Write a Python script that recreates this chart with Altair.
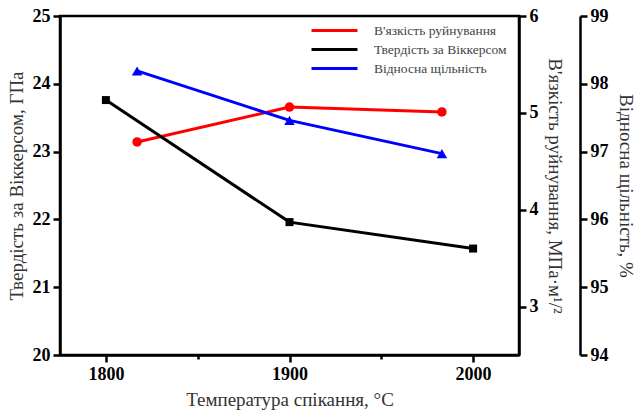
import altair as alt
import pandas as pd

# ---- data ----
series_names = ["В'язкість руйнування", "Твердість за Віккерсом", "Відносна щільність"]
series_colors = ["#ff0000", "#000000", "#0000ff"]

temp_hardness = [1800, 1900, 2000]
hardness = [23.76, 21.96, 21.57]

temp_toughness = [1817, 1900, 1983]
toughness = [4.70, 5.06, 5.01]

temp_density = [1817, 1900, 1983]
density = [98.19, 97.46, 96.97]

x_ticks = [1800, 1850, 1900, 1950, 2000]
hv_ticks = [20, 20.5, 21, 21.5, 22, 22.5, 23, 23.5, 24, 24.5, 25]
k_ticks = [3, 3.5, 4, 4.5, 5, 5.5, 6]
d_ticks = [94, 94.5, 95, 95.5, 96, 96.5, 97, 97.5, 98, 98.5, 99]

df_h = pd.DataFrame({"t": temp_hardness, "v": hardness, "series": series_names[1]})
df_k = pd.DataFrame({"t": temp_toughness, "v": toughness, "series": series_names[0]})
df_d = pd.DataFrame({"t": temp_density, "v": density, "series": series_names[2]})

FONT = "Liberation Serif"


def make_axis(values, step_test, **kw):
    base = dict(
        values=values,
        format="d",
        grid=False,
        domainColor="black",
        domainWidth=2.5,
        tickColor="black",
        tickWidth=2.5,
        tickSize={"condition": {"test": step_test, "value": 4}, "value": 7},
        labelExpr="(" + step_test + ") ? '' : format(datum.value, 'd')",
        labelFont=FONT,
        labelFontWeight="bold",
        labelFontSize=18,
        labelColor="black",
        labelPadding=3,
        titleFont=FONT,
        titleFontWeight="normal",
        titleFontSize=19,
        titleColor="#333333",
    )
    base.update(kw)
    return alt.Axis(**base)


x_axis = make_axis(x_ticks, "datum.value % 100 != 0",
                   title="Температура спікання, °C", titlePadding=7, labelFlush=False)


def x_enc():
    return alt.X("t:Q", scale=alt.Scale(domain=[1775, 2025], nice=False, zero=False), axis=x_axis)


color_enc = alt.Color(
    "series:N",
    scale=alt.Scale(domain=series_names, range=series_colors),
    legend=alt.Legend(
        title=None,
        orient="none",
        legendX=267,
        legendY=7,
        symbolType="M-4,0H4",
        symbolStrokeWidth=3,
        symbolSize=132,
        labelFont=FONT,
        labelFontSize=13.5,
        labelColor="#444444",
        labelOffset=32,
        rowPadding=5,
        padding=0,
    ),
)

hard = alt.Chart(df_h).mark_line(
    strokeWidth=3, point=alt.OverlayMarkDef(filled=True, shape="square", size=64, opacity=1)
).encode(
    x=x_enc(),
    y=alt.Y("v:Q", scale=alt.Scale(domain=[20, 25], nice=False, zero=False),
            axis=make_axis(hv_ticks, "datum.value % 1 != 0", orient="left",
                           title="Твердість за Віккерсом, ГПа", titlePadding=6)),
    color=color_enc,
)

tough = alt.Chart(df_k).mark_line(
    strokeWidth=3, point=alt.OverlayMarkDef(filled=True, shape="circle", size=90, opacity=1)
).encode(
    x=x_enc(),
    y=alt.Y("v:Q", scale=alt.Scale(domain=[2.5, 6], nice=False, zero=False),
            axis=make_axis(k_ticks, "datum.value % 1 != 0", orient="right",
                           title="В'язкість руйнування, МПа·м¹/²", titlePadding=6)),
    color=color_enc,
)

dens = alt.Chart(df_d).mark_line(
    strokeWidth=3, point=alt.OverlayMarkDef(filled=True, shape="triangle-up", size=110, opacity=1)
).encode(
    x=x_enc(),
    y=alt.Y("v:Q", scale=alt.Scale(domain=[94, 99], nice=False, zero=False),
            axis=make_axis(d_ticks, "datum.value % 1 != 0", orient="right", offset=61,
                           title="Відносна щільність, %", titlePadding=7)),
    color=color_enc,
)

chart = (
    alt.layer(tough, dens, hard)
    .resolve_scale(y="independent")
    .properties(
        width=459,
        height=339,
        autosize=alt.AutoSizeParams(type="none"),
        padding={"left": 60, "top": 16, "right": 116, "bottom": 55},
        background="white",
    )
    .configure_view(stroke="black", strokeWidth=2.5)
)

chart.save("out.html", embed_options={"renderer": "svg", "actions": False})
